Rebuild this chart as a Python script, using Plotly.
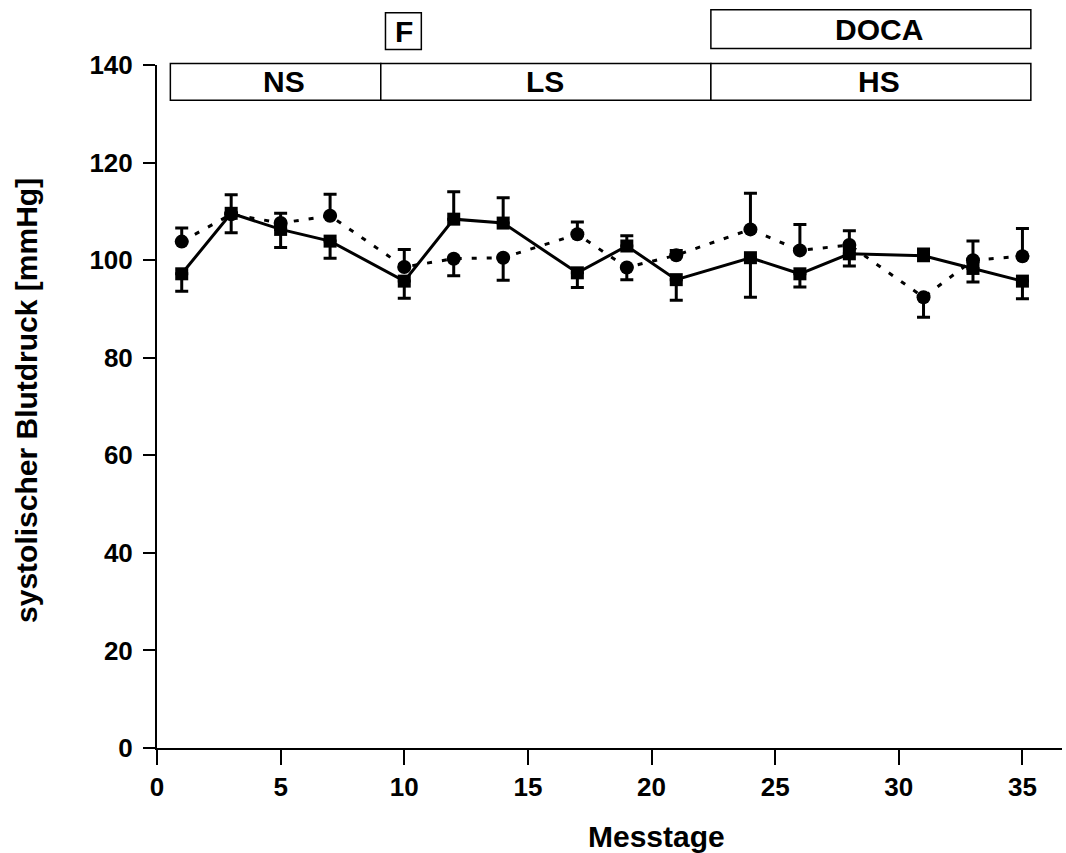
import plotly.graph_objects as go

# ---- data ----
days = [1, 3, 5, 7, 10, 12, 14, 17, 19, 21, 24, 26, 28, 31, 33, 35]
sq_mean = [97.2, 109.6, 106.3, 103.9, 95.7, 108.4, 107.6, 97.4, 102.9, 96.0, 100.5, 97.2, 101.3, 100.9, 98.3, 95.7]
sq_err = [3.6, 3.8, 3.7, 3.5, 3.5, 5.6, 5.2, 3.0, 2.1, 4.2, 8.1, 2.7, 2.5, 1.4, 2.8, 3.6]
ci_mean = [103.8, 109.4, 107.6, 109.1, 98.6, 100.3, 100.5, 105.3, 98.5, 101.0, 106.3, 102.0, 103.1, 92.4, 100.0, 100.8]
ci_err = [2.8, 3.8, 2.0, 4.4, 3.6, 3.5, 4.6, 2.5, 2.5, 1.0, 7.4, 5.3, 2.9, 4.1, 3.9, 5.7]

x_ticks = [0, 5, 10, 15, 20, 25, 30, 35]
y_ticks = [0, 20, 40, 60, 80, 100, 120, 140]

phase_labels = ["NS", "LS", "HS"]
phase_start = [0.54, 9.05, 22.4]
phase_end = [9.05, 22.4, 35.34]
phase_label_x = [5.12, 15.71, 29.2]

treat_labels = ["F", "DOCA"]
treat_start = [9.24, 22.4]
treat_end = [10.69, 35.34]
treat_label_x = [9.97, 29.2]

x_title = "Messtage"
y_title = "systolischer Blutdruck [mmHg]"

# ---- layout constants ----
XMIN, XMAX = 0, 36.6
YMIN, YMAX = 0, 140
FONT = "Liberation Sans"


def px(x):
    return (x - XMIN) / (XMAX - XMIN)


def py(y):
    return (y - YMIN) / (YMAX - YMIN)


# one-sided error bars: higher series shows upward, lower shows downward
sq_up = [e if s >= c else 0 for s, c, e in zip(sq_mean, ci_mean, sq_err)]
sq_dn = [0 if s >= c else e for s, c, e in zip(sq_mean, ci_mean, sq_err)]
ci_up = [e if c > s else 0 for s, c, e in zip(sq_mean, ci_mean, ci_err)]
ci_dn = [0 if c > s else e for s, c, e in zip(sq_mean, ci_mean, ci_err)]

fig = go.Figure()
fig.add_trace(go.Scatter(
    x=days, y=sq_mean, mode="lines+markers",
    line=dict(color="black", width=3),
    marker=dict(symbol="square", size=13, color="black", line=dict(width=0)),
    error_y=dict(type="data", symmetric=False, array=sq_up, arrayminus=sq_dn,
                 color="black", thickness=3, width=6.5),
    showlegend=False, cliponaxis=False,
))
fig.add_trace(go.Scatter(
    x=days, y=ci_mean, mode="lines+markers",
    line=dict(color="black", width=3, dash="5px,10px"),
    marker=dict(symbol="circle", size=14, color="black", line=dict(width=0)),
    error_y=dict(type="data", symmetric=False, array=ci_up, arrayminus=ci_dn,
                 color="black", thickness=3, width=6.5),
    showlegend=False, cliponaxis=False,
))

shapes = []
annotations = []
ROW1 = (132.8, 140.3)
ROW2 = [(143.2, 150.7), (143.4, 151.3)]
for lab, s, e, lx in zip(phase_labels, phase_start, phase_end, phase_label_x):
    shapes.append(dict(type="rect", xref="paper", yref="paper",
                       x0=px(s), x1=px(e), y0=py(ROW1[0]), y1=py(ROW1[1]),
                       line=dict(color="black", width=1.5), fillcolor="white"))
    annotations.append(dict(text=lab, xref="paper", yref="paper", x=px(lx),
                            y=py(sum(ROW1) / 2), showarrow=False,
                            xanchor="center", yanchor="middle",
                            font=dict(family=FONT, size=30, color="black", weight="bold")))
for lab, s, e, lx, rw in zip(treat_labels, treat_start, treat_end, treat_label_x, ROW2):
    shapes.append(dict(type="rect", xref="paper", yref="paper",
                       x0=px(s), x1=px(e), y0=py(rw[0]), y1=py(rw[1]),
                       line=dict(color="black", width=1.5), fillcolor="white"))
    annotations.append(dict(text=lab, xref="paper", yref="paper", x=px(lx),
                            y=py(sum(rw) / 2), showarrow=False,
                            xanchor="center", yanchor="middle",
                            font=dict(family=FONT, size=30, color="black", weight="bold")))

annotations.append(dict(text=x_title, xref="paper", yref="paper", x=0.552, y=-0.129,
                        showarrow=False, xanchor="center", yanchor="middle",
                        font=dict(family=FONT, size=30, color="black", weight="bold")))
annotations.append(dict(text=y_title, xref="paper", yref="paper", x=-0.1448, y=0.5095,
                        textangle=-90, showarrow=False, xanchor="center", yanchor="middle",
                        font=dict(family=FONT, size=30, color="black", weight="bold")))

axis_common = dict(showline=True, linecolor="black", linewidth=2, ticks="outside",
                   tickcolor="black", tickwidth=2, showgrid=False, zeroline=False,
                   tickfont=dict(family=FONT, size=26, color="black", weight="bold"))
fig.update_layout(
    width=1066, height=853,
    margin=dict(l=157, r=4, t=65, b=105),
    paper_bgcolor="white", plot_bgcolor="white",
    xaxis=dict(range=[XMIN, XMAX], tickvals=x_ticks, ticklen=15, **axis_common),
    yaxis=dict(range=[YMIN, YMAX], tickvals=y_ticks, ticklen=12,
               ticklabelstandoff=5, **axis_common),
    shapes=shapes, annotations=annotations,
)
fig.write_html("out.html", config={"displayModeBar": False})

# remove default page margin so the figure sits at the window origin
with open("out.html", encoding="utf-8") as f:
    html = f.read()
html = html.replace("<body>", '<body style="margin:0;padding:0;overflow:hidden">', 1)
with open("out.html", "w", encoding="utf-8") as f:
    f.write(html)
